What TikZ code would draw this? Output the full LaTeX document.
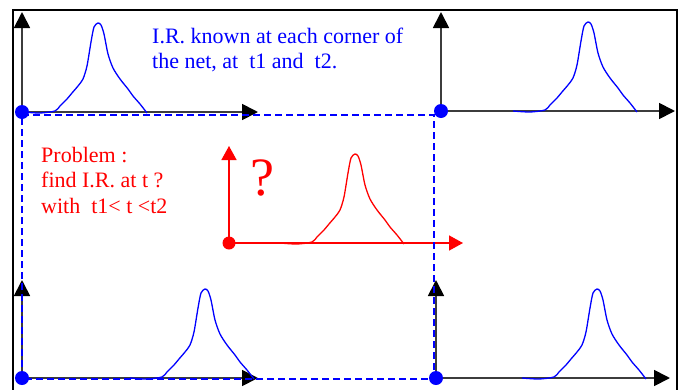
\documentclass[tikz,border=0pt]{standalone}
\usepackage{fontspec}
\setmainfont{Liberation Serif}
\usetikzlibrary{arrows.meta}
\definecolor{pblue}{RGB}{0,0,255}
\definecolor{pred}{RGB}{255,0,0}
\definecolor{axgray}{RGB}{60,60,60}
\tikzset{
  axisline/.style={draw=axgray,line width=1.8pt,-{Triangle[length=16pt,width=16pt,black]},shorten >=-1pt},
  redaxis/.style={draw=pred,line width=1.5pt,-{Triangle[length=14pt,width=15pt]}},
  netline/.style={draw=pblue,line width=2.2pt,dash pattern=on 7pt off 4pt},
  corner/.style={circle,fill=pblue,inner sep=0pt,minimum size=14pt},
  reddot/.style={circle,fill=pred,inner sep=0pt,minimum size=13pt},
  ircurve/.style={line width=1.3pt,line join=round}
}
\newcommand\irpulse[3]{%
  \begin{scope}[shift={(#1,#2)}]
    \draw[ircurve,#3] plot[smooth,tension=0.45] coordinates {(-75,0) (-58,1) (-43,-1) (-38,-6) (-31,-13) (-26,-19) (-20,-26) (-15,-33) (-11,-46) (-7,-70) (-4,-85) (0,-89) (3,-87) (6,-78) (10,-58) (15,-44) (22,-33) (30,-23) (35,-16) (42,-8) (49,1)};
  \end{scope}}
\begin{document}
\begin{tikzpicture}[x=1pt,y=-1pt]
\useasboundingbox (0,0) rectangle (689,389);
\begin{scope}
\clip (0,0) rectangle (689,389);
\draw[line width=2.5pt] (13,410) -- (13,10) -- (677,10) -- (677,410);
\end{scope}
% origins
\coordinate (o1) at (22,112);
\coordinate (o2) at (441,111);
\coordinate (o3) at (22,378);
\coordinate (o4) at (436,378);
\coordinate (o5) at (229,243);
% axes tips
\coordinate (v1) at (22,13);
\coordinate (h1) at (257,112);
\coordinate (v2) at (441,13);
\coordinate (h2) at (674,111);
\coordinate (v3) at (22,281);
\coordinate (h3) at (257,378);
\coordinate (v4) at (436,281);
\coordinate (h4) at (669,378);
\coordinate (v5) at (229,146);
\coordinate (h5) at (463,243);
\draw[axisline] (o1) -- (v1);
\draw[axisline] (o1) -- (h1);
\draw[axisline] (o2) -- (v2);
\draw[axisline] (o2) -- (h2);
\draw[axisline] (o3) -- (v3);
\draw[axisline] (o3) -- (h3);
\draw[axisline] (o4) -- (v4);
\draw[axisline] (o4) -- (h4);
\draw[redaxis] (o5) -- (v5);
\draw[redaxis] (o5) -- (h5);
% pulses
\irpulse{98}{112}{pblue}
\irpulse{588}{111}{pblue}
\irpulse{205}{378}{pblue}
\irpulse{597}{378}{pblue}
\irpulse{355}{243}{pred}
% net
\coordinate (n1) at (22,115);
\coordinate (n2) at (434,115);
\coordinate (n3) at (434,379);
\coordinate (n4) at (22,379);
\draw[netline] (n1) -- (n2) -- (n3) -- (n4) -- cycle;
% dots
\node[corner] (c1) at (o1) {};
\node[corner] (c2) at (o2) {};
\node[corner] (c3) at (o3) {};
\node[corner] (c4) at (o4) {};
\node[reddot] (c5) at (o5) {};
% texts
\node[anchor=base west,inner sep=0pt,text=pblue,font=\fontsize{22}{25}\selectfont,align=left] (known) at (152,68)
  {I.R. known at each corner of\\the net, at\ \ t1 and\ \ t2.};
\node[anchor=base west,inner sep=0pt,text=pred,font=\fontsize{22}{25.5}\selectfont,align=left] (problem) at (41,213)
  {Problem :\\find I.R. at t ?\\with\ \ t1< t <t2};
\node[anchor=base west,inner sep=0pt,text=pred,font=\fontsize{54}{60}\selectfont] (q) at (250,195) {?};
\end{tikzpicture}
\end{document}
